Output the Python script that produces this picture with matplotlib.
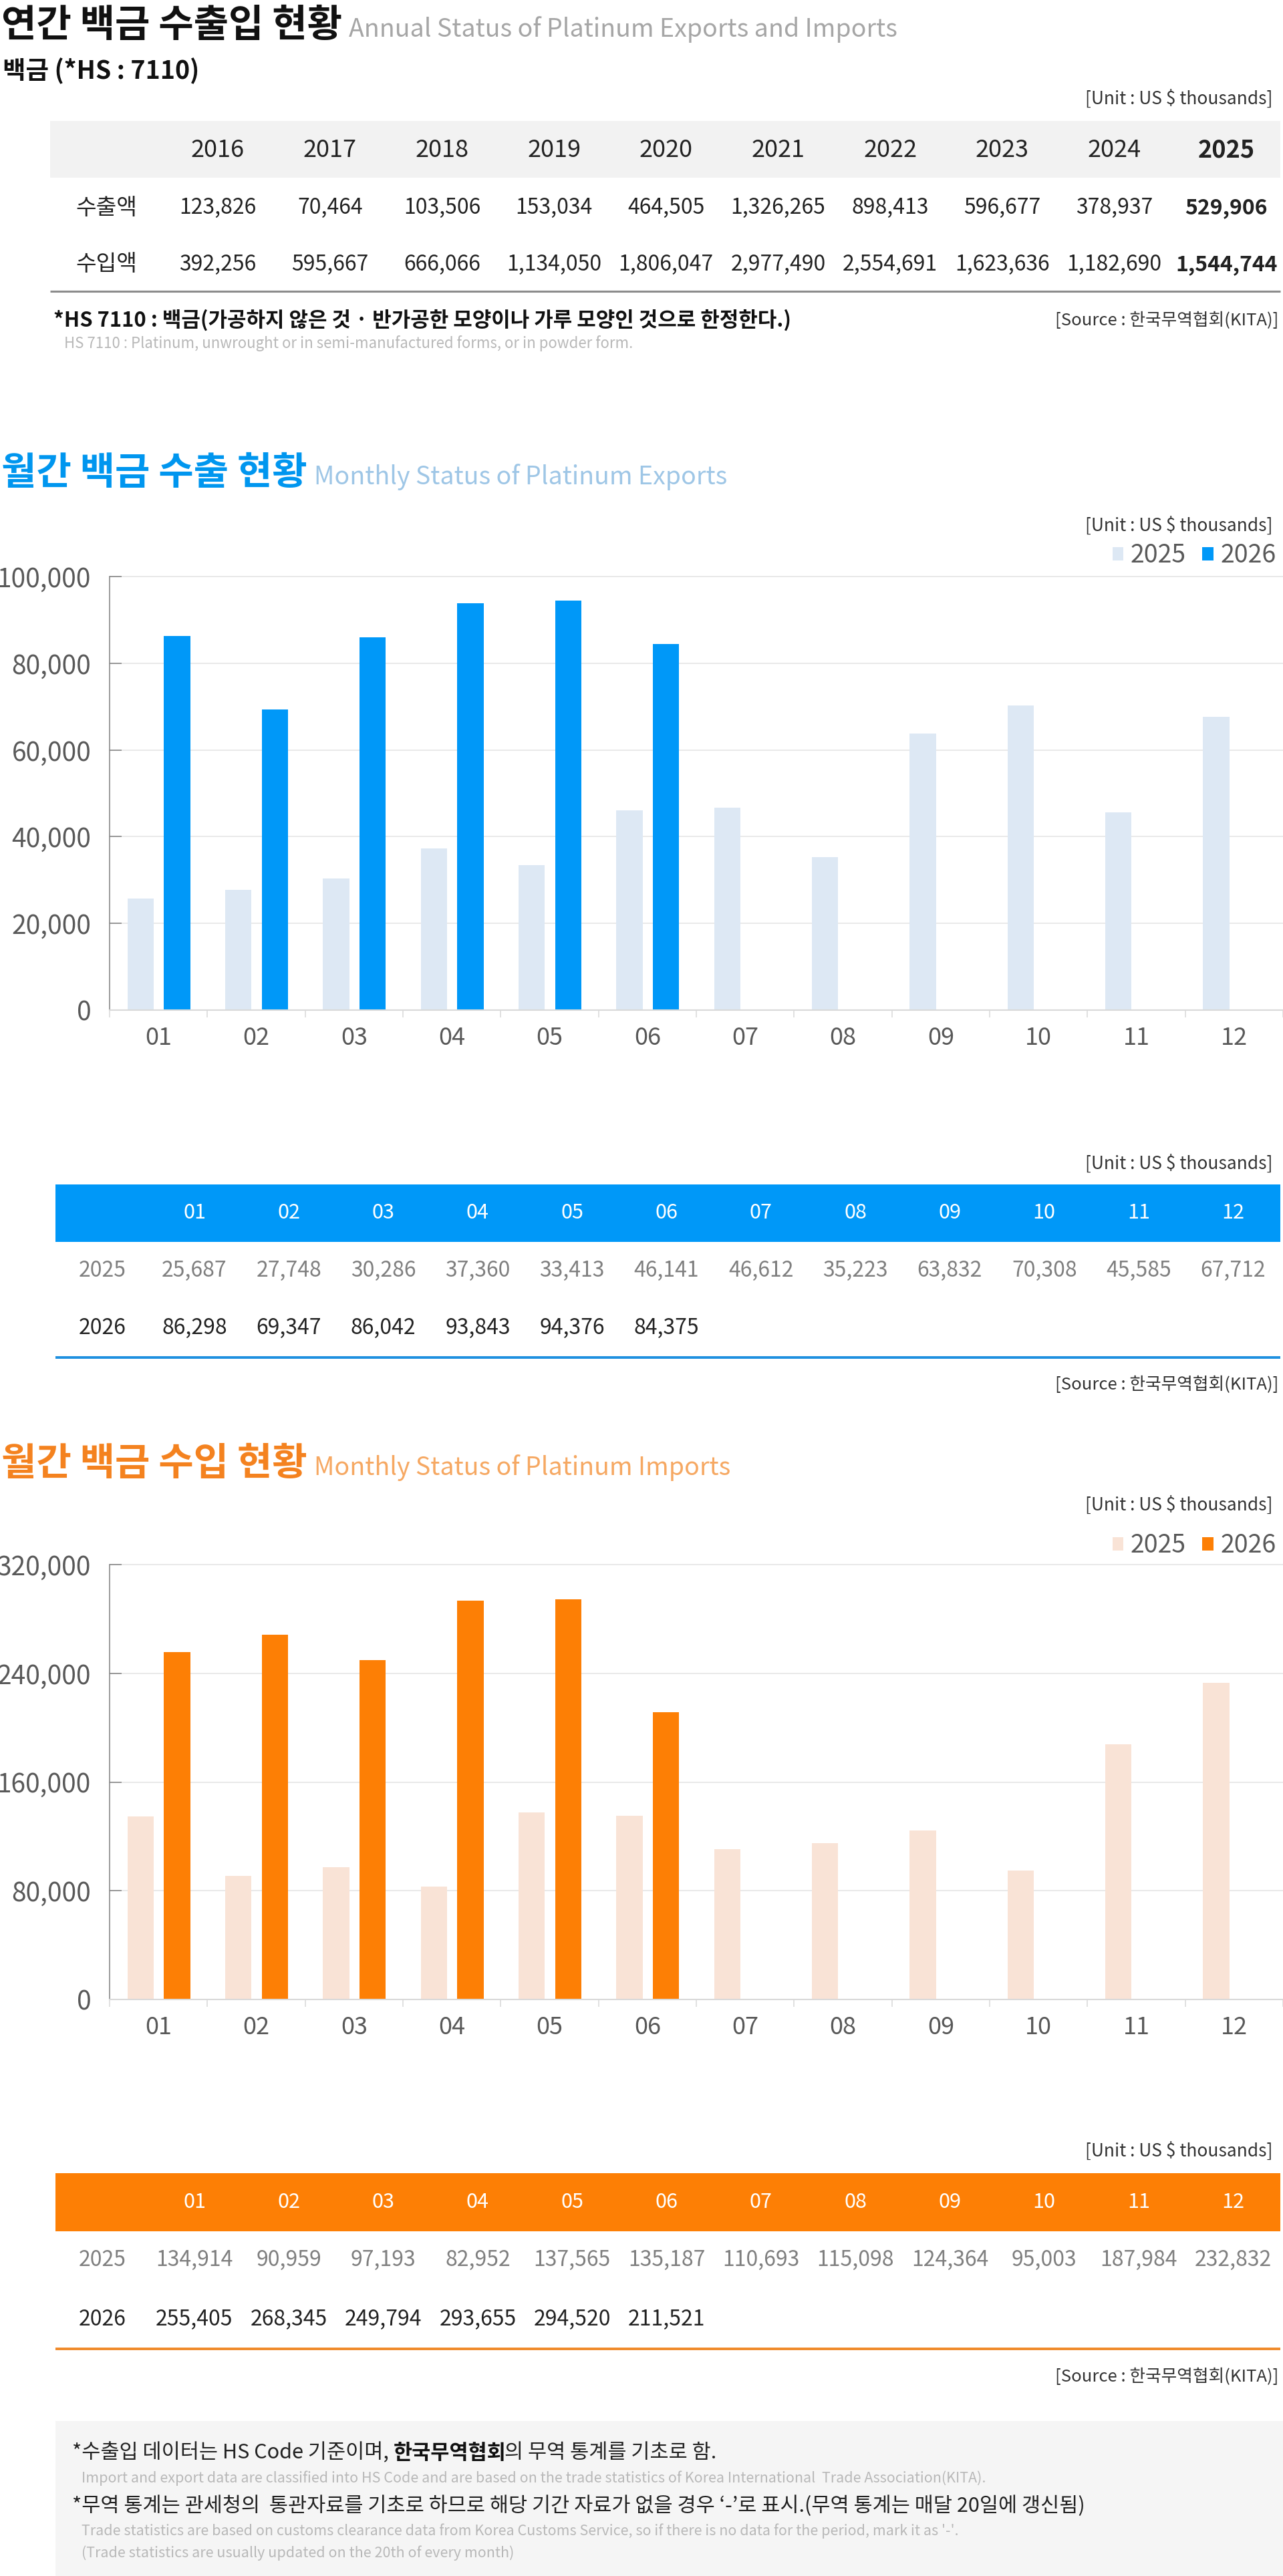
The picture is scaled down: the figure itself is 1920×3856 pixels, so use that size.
import matplotlib
matplotlib.use('Agg')
import matplotlib.pyplot as plt
from matplotlib.patches import Rectangle, Patch
from matplotlib.lines import Line2D
import numpy as np

plt.rcParams['font.family'] = ['Noto Sans CJK KR', 'DejaVu Sans']

# ---------------- data ----------------
years = ['2016', '2017', '2018', '2019', '2020', '2021', '2022', '2023', '2024', '2025']
annual_export = [123826, 70464, 103506, 153034, 464505, 1326265, 898413, 596677, 378937, 529906]
annual_import = [392256, 595667, 666066, 1134050, 1806047, 2977490, 2554691, 1623636, 1182690, 1544744]
row_labels = ['수출액', '수입액']

months = ['01', '02', '03', '04', '05', '06', '07', '08', '09', '10', '11', '12']
series_labels = ['2025', '2026']
export_2025 = [25687, 27748, 30286, 37360, 33413, 46141, 46612, 35223, 63832, 70308, 45585, 67712]
export_2026 = [86298, 69347, 86042, 93843, 94376, 84375]
import_2025 = [134914, 90959, 97193, 82952, 137565, 135187, 110693, 115098, 124364, 95003, 187984, 232832]
import_2026 = [255405, 268345, 249794, 293655, 294520, 211521]
export_yticks = [0, 20000, 40000, 60000, 80000, 100000]
import_yticks = [0, 80000, 160000, 240000, 320000]

unit_text = '[Unit : US $ thousands]'
source_text = '[Source : 한국무역협회(KITA)]'

# ---------------- layout helpers ----------------
W, H = 1920, 3856
fig = plt.figure(figsize=(W / 100, H / 100), dpi=100)
renderer = fig.canvas.get_renderer()


def fx(x):
    return x / W


def fy(y):
    return 1 - y / H


def T(x, y, s, size, color='#333333', weight='normal', ha='left', va='center'):
    return fig.text(fx(x), fy(y), s, fontsize=size, color=color,
                    fontweight=weight, ha=ha, va=va)


def right_px(t):
    return t.get_window_extent(renderer).x1


def rect(x0, y0, x1, y1, color):
    fig.add_artist(Rectangle((fx(x0), fy(y1)), fx(x1) - fx(x0), (y1 - y0) / H,
                             transform=fig.transFigure, facecolor=color,
                             edgecolor='none', zorder=0))


def hline(x0, x1, y, color, lw):
    fig.add_artist(Line2D([fx(x0), fx(x1)], [fy(y), fy(y)], transform=fig.transFigure,
                          color=color, lw=lw, solid_capstyle='butt'))


def title_pair(y_base, ko, en, ko_color, en_color):
    t = T(2, y_base, ko, 41, ko_color, 'bold', va='baseline')
    x1 = right_px(t)
    T(x1 + 10, y_base, en, 27, en_color, va='baseline')


UNIT_FS = 19
SRC_FS = 18.5

# ---------------- section 1 : annual ----------------
title_pair(55, '연간 백금 수출입 현황', 'Annual Status of Platinum Exports and Imports',
           '#111111', '#a6a6a6')
T(4, 118, '백금 (*HS : 7110)', 27, '#111111', 'bold', va='baseline')
T(1905, 148, unit_text, UNIT_FS, '#333333', ha='right')

rect(75, 181, 1916, 266, '#f2f2f2')
col_x0, col_step = 326, 167.7
for i, yr in enumerate(years):
    bold = 'bold' if i == len(years) - 1 else 'normal'
    T(col_x0 + i * col_step, 225, yr, 26, '#222222', bold, ha='center')
row_y = [311, 396]
for r, (lab, vals) in enumerate(zip(row_labels, [annual_export, annual_import])):
    T(159, row_y[r], lab, 24, '#222222', ha='center')
    for i, v in enumerate(vals):
        bold = 'bold' if i == len(vals) - 1 else 'normal'
        T(col_x0 + i * col_step, row_y[r], f'{v:,}', 23, '#222222', bold, ha='center')
hline(75, 1916, 436, '#8c8c8c', 2.2)
T(80, 489, '*HS 7110 : 백금(가공하지 않은 것 · 반가공한 모양이나 가루 모양인 것으로 한정한다.)',
  22.3, '#111111', 'bold', va='baseline')
T(1913, 480, source_text, SRC_FS, '#333333', ha='right')
T(96, 521, 'HS 7110 : Platinum, unwrought or in semi-manufactured forms, or in powder form.',
  16, '#b8b8b8', va='baseline')


# ---------------- monthly charts ----------------
def bar_chart(top, bottom, prev, curr, light, dark, yticks, legend_y):
    ax = fig.add_axes([fx(164), fy(bottom), fx(1920) - fx(164), (bottom - top) / H])
    x = np.arange(len(months))
    ax.bar(x - 0.183, prev, width=0.27, color=light, zorder=2)
    ax.bar(np.arange(len(curr)) + 0.19, curr, width=0.27, color=dark, zorder=2)
    ax.set_xlim(-0.5, len(months) - 0.5)
    ax.set_ylim(yticks[0], yticks[-1])
    ax.set_yticks(yticks)
    ax.set_yticklabels([f'{v:,}' for v in yticks])
    ax.set_xticks(x)
    ax.set_xticklabels(months)
    ax.set_xticks(np.arange(len(months) + 1) - 0.5, minor=True)
    ax.tick_params(axis='x', which='major', length=0, pad=17, labelsize=26, labelcolor='#595959')
    ax.tick_params(axis='x', which='minor', length=8, width=1.1, color='#d9d9d9', direction='out')
    ax.tick_params(axis='y', direction='in', length=13, width=1.1, color='#808080',
                   pad=20, labelsize=28, labelcolor='#595959')
    ax.grid(axis='y', color='#e3e3e3', lw=1.1)
    for gl in ax.get_ygridlines():
        gl.set_clip_on(False)
    ax.set_axisbelow(True)
    for s in ['top', 'right']:
        ax.spines[s].set_visible(False)
    ax.spines['left'].set_color('#808080')
    ax.spines['left'].set_linewidth(1.1)
    ax.spines['bottom'].set_color('#d9d9d9')
    ax.spines['bottom'].set_linewidth(1.5)
    handles = [Patch(facecolor=light), Patch(facecolor=dark)]
    ax.legend(handles, series_labels, loc='center right',
              bbox_to_anchor=(fx(1910), fy(legend_y)), bbox_transform=fig.transFigure,
              ncol=2, frameon=False, fontsize=27, labelcolor='#595959',
              handlelength=0.45, handleheight=0.45, handletextpad=0.28,
              columnspacing=0.65, borderpad=0, borderaxespad=0)
    return ax


def month_table(unit_y, band_top, band_bot, row_ys, line_y, src_y, band_color, line_color, prev, curr):
    T(1905, unit_y, unit_text, UNIT_FS, '#333333', ha='right')
    rect(83, band_top, 1916, band_bot, band_color)
    hy = (band_top + band_bot) / 2
    mx0, mstep = 291, 141.3
    for i, m in enumerate(months):
        T(mx0 + i * mstep, hy, m, 22, 'white', ha='center')
    T(153, row_ys[0], series_labels[0], 23, '#7f7f7f', ha='center')
    for i, v in enumerate(prev):
        T(mx0 + i * mstep, row_ys[0], f'{v:,}', 23, '#7f7f7f', ha='center')
    T(153, row_ys[1], series_labels[1], 23, '#222222', ha='center')
    for i, v in enumerate(curr):
        T(mx0 + i * mstep, row_ys[1], f'{v:,}', 23, '#222222', ha='center')
    hline(83, 1916, line_y, line_color, 2.8)
    T(1913, src_y, source_text, SRC_FS, '#333333', ha='right')


# ---------------- section 2 : exports ----------------
blue = '#0098f8'
blue_light = '#dde8f4'
title_pair(725, '월간 백금 수출 현황', 'Monthly Status of Platinum Exports', '#0096ef', '#9ec6e6')
T(1905, 787, unit_text, UNIT_FS, '#333333', ha='right')
bar_chart(863, 1512, export_2025, export_2026, blue_light, blue, export_yticks, 832)
month_table(1742, 1773, 1859, [1902, 1988], 2032, 2073, blue, '#1e90e0', export_2025, export_2026)

# ---------------- section 3 : imports ----------------
orange = '#fd7f05'
orange_light = '#f9e3d6'
title_pair(2208, '월간 백금 수입 현황', 'Monthly Status of Platinum Imports', '#f4821f', '#f6a862')
T(1905, 2253, unit_text, UNIT_FS, '#333333', ha='right')
bar_chart(2342, 2993, import_2025, import_2026, orange_light, orange, import_yticks, 2314)
month_table(3220, 3253, 3340, [3383, 3472], 3516, 3558, orange, '#f08a2a', import_2025, import_2026)

# ---------------- footer notes ----------------
NOTE_FS = 22
EN_FS = 15.5
rect(83, 3624, 1920, 3856, '#f5f5f5')
t1 = T(108, 3672, '*수출입 데이터는 HS Code 기준이며,', NOTE_FS, '#222222')
x1 = right_px(t1)
t2 = T(x1 + 7, 3672, '한국무역협회', NOTE_FS, '#111111', 'bold')
x2 = right_px(t2)
T(x2 - 3, 3672, '의 무역 통계를 기초로 함.', NOTE_FS, '#222222')
T(122, 3710, 'Import and export data are classified into HS Code and are based on the trade statistics of Korea International  Trade Association(KITA).',
  EN_FS, '#b8b8b8')
T(108, 3751, '*무역 통계는 관세청의  통관자료를 기초로 하므로 해당 기간 자료가 없을 경우 ‘-’로 표시.(무역 통계는 매달 20일에 갱신됨)',
  NOTE_FS, '#222222')
T(122, 3789, "Trade statistics are based on customs clearance data from Korea Customs Service, so if there is no data for the period, mark it as '-'.",
  EN_FS, '#b8b8b8')
T(122, 3822, '(Trade statistics are usually updated on the 20th of every month)', EN_FS, '#b8b8b8')

fig.savefig('out.png', dpi=100)
